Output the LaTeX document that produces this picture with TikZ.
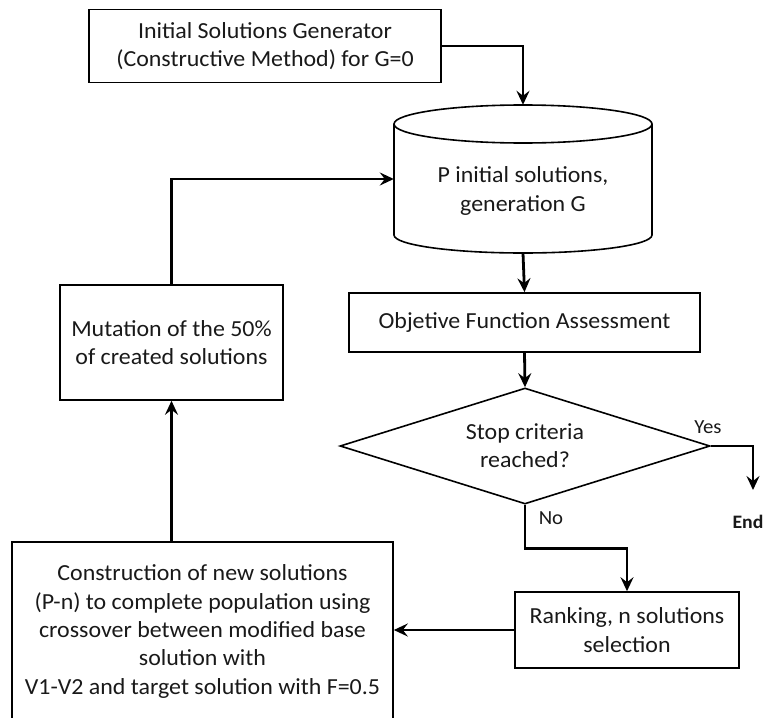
\documentclass[tikz,border=0pt]{standalone}
\usepackage{fontspec}
\setmainfont{Carlito}[FakeStretch=1.04]
\usetikzlibrary{arrows.meta,shapes.geometric}
\begin{document}
\begin{tikzpicture}[x=1pt,y=-1pt,
  txt/.style={font=\fontsize{23}{28.3}\selectfont, text=black!90},
  box/.style={txt, draw, line width=1.6pt, align=center, inner sep=0pt},
  flow/.style={line width=2.8pt, -{Stealth[length=14pt,width=13pt,inset=5pt]}},
  lbl/.style={font=\fontsize{20}{24}\selectfont, text=black!90}
]
\useasboundingbox (0,0) rectangle (765,717);
\clip (0,0) rectangle (765,717);

% process boxes
\node[box, minimum width=352, minimum height=73] (gen) at (265,46)
  {Initial Solutions Generator\\(Constructive Method) for G=0};
\node[box, minimum width=351, minimum height=59] (obj) at (524.5,322.5)
  {Objetive Function Assessment};
\node[box, minimum width=224, minimum height=76] (rank) at (627,630)
  {Ranking, n solutions\\selection};
\node[box, minimum width=223, minimum height=115] (mut) at (171.5,342.5)
  {Mutation of the 50\%\\of created solutions};
\node[box, minimum width=381, minimum height=179] (cons) at (202.5,631.5)
  {Construction of new solutions\\(P-n) to complete population using\\crossover between modified base\\solution with\\V1-V2 and target solution with F=0.5};

% population store (cylinder)
\node[minimum width=258, minimum height=148, inner sep=0pt] (pop) at (523,179) {};
\draw[line width=1.6pt] (523,124) ellipse[x radius=129, y radius=19];
\draw[line width=1.6pt] (394,124) -- (394,235)
  arc[start angle=180, end angle=0, x radius=129, y radius=18] -- (652,124);
\node[txt, align=center] (poptext) at (523,191) {P initial solutions,\\generation G};

% decision
\node[txt, draw, diamond, aspect=3.19, line width=1.6pt, align=center, inner sep=0pt,
  minimum width=370, minimum height=116] (stop) at (525,446) {Stop criteria\\reached?};

% terminal label
\node[lbl, font=\fontsize{19}{22}\selectfont\bfseries] (end) at (748,522) {End};
\coordinate (endtip) at (753,490);

% connectors
\draw[flow] (gen.east) -| (pop.north);
\draw[flow] (pop.south) -- (obj.north);
\draw[flow] (obj.south) -- (stop.north);
\draw[flow] (stop.east) -| (endtip);
\draw[flow] (stop.south) -- ++(0,44) -| (rank.north);
\draw[flow] (rank.west) -- (rank.west -| cons.east);
\draw[flow] (mut.south |- cons.north) -- (mut.south);
\draw[flow] (mut.north) |- (pop.west);

% branch labels
\node[lbl] (yes) at (708,427) {Yes};
\node[lbl] (no) at (551,518) {No};
\end{tikzpicture}
\end{document}
